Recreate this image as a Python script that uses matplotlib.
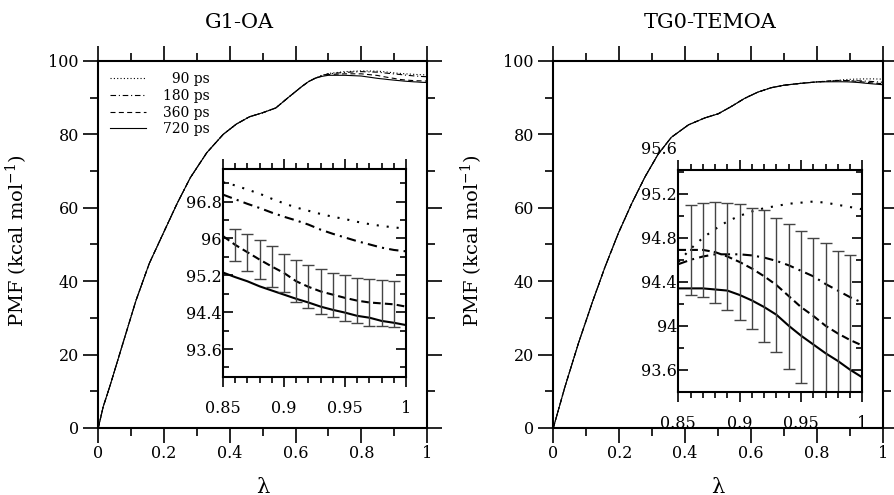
import matplotlib
matplotlib.use('Agg')
import matplotlib.pyplot as plt
from matplotlib.ticker import MultipleLocator

plt.rcParams['font.family'] = ['DejaVu Serif', 'DejaVu Sans']
plt.rcParams['mathtext.fontset'] = 'dejavuserif'

times = ['90 ps', '180 ps', '360 ps', '720 ps']

main_xticks = [0, 0.2, 0.4, 0.6, 0.8, 1.0]
main_xlabels = ['0', '0.2', '0.4', '0.6', '0.8', '1']
main_yticks = [0, 20, 40, 60, 80, 100]
main_ylabels = ['0', '20', '40', '60', '80', '100']
inset_xticks = [0.85, 0.9, 0.95, 1.0]
inset_xlabels = ['0.85', '0.9', '0.95', '1']

# lambda grid of the zoomed region (shared by both insets)
lam_in = [0.85, 0.86, 0.87, 0.88, 0.89, 0.90, 0.91, 0.92,
          0.93, 0.94, 0.95, 0.96, 0.97, 0.98, 0.99, 1.0]

# ---- G1-OA ----
g1_lam = [0, 0.015, 0.035, 0.075, 0.115, 0.155, 0.2, 0.24, 0.28, 0.33,
          0.38, 0.42, 0.46, 0.5, 0.54, 0.58, 0.62, 0.64, 0.66]
g1_pmf = [0, 5.8, 11.3, 23.1, 34.8, 44.8, 53.5, 61.2, 68.2, 75.0,
          80.0, 82.8, 84.8, 85.9, 87.2, 90.2, 93.1, 94.4, 95.3]
g1_lam_up = [0.68, 0.7, 0.75, 0.8]
g1_up = [[96.1, 96.6, 97.1, 97.3],
         [96.0, 96.5, 96.9, 97.1],
         [95.9, 96.3, 96.5, 96.5],
         [95.8, 96.1, 96.1, 95.9]]
g1_in = [[97.22, 97.15, 97.06, 96.97, 96.86, 96.76, 96.67, 96.60,
          96.53, 96.47, 96.42, 96.36, 96.31, 96.27, 96.24, 96.21],
         [96.95, 96.85, 96.75, 96.66, 96.56, 96.47, 96.39, 96.30,
          96.19, 96.10, 96.02, 95.94, 95.87, 95.80, 95.75, 95.72],
         [96.05, 95.86, 95.70, 95.54, 95.39, 95.25, 95.07, 94.95,
          94.85, 94.78, 94.71, 94.65, 94.61, 94.59, 94.57, 94.52],
         [95.26, 95.16, 95.07, 94.96, 94.87, 94.78, 94.69, 94.61,
          94.52, 94.45, 94.39, 94.32, 94.28, 94.21, 94.17, 94.12]]
g1_err = [0.34, 0.40, 0.42, 0.44, 0.42, 0.46, 0.47, 0.49,
          0.48, 0.50, 0.49, 0.50, 0.50, 0.50]
g1_in_yticks = [93.6, 94.4, 95.2, 96.0, 96.8]
g1_in_ylabels = ['93.6', '94.4', '95.2', '96', '96.8']

# ---- TG0-TEMOA ----
tg_lam = [0, 0.035, 0.076, 0.117, 0.157, 0.197, 0.238, 0.278, 0.318, 0.358,
          0.41, 0.46, 0.5, 0.54, 0.58, 0.62, 0.66, 0.7, 0.75, 0.8]
tg_pmf = [0, 11.1, 23.0, 33.9, 43.9, 53.0, 61.2, 68.4, 74.6, 79.2,
          82.6, 84.5, 85.6, 87.6, 89.8, 91.5, 92.7, 93.4, 93.9, 94.3]
tg_in = [[94.58, 94.70, 94.80, 94.88, 94.95, 95.00, 95.04, 95.07,
          95.09, 95.11, 95.12, 95.13, 95.12, 95.10, 95.08, 95.06],
         [94.56, 94.60, 94.63, 94.65, 94.65, 94.65, 94.64, 94.62,
          94.59, 94.55, 94.50, 94.45, 94.38, 94.32, 94.26, 94.21],
         [94.69, 94.69, 94.69, 94.67, 94.63, 94.58, 94.52, 94.45,
          94.37, 94.27, 94.17, 94.09, 94.00, 93.93, 93.87, 93.82],
         [94.34, 94.34, 94.34, 94.33, 94.32, 94.28, 94.23, 94.17,
          94.10, 94.00, 93.91, 93.83, 93.75, 93.68, 93.60, 93.53]]
tg_err = [0.41, 0.43, 0.46, 0.49, 0.53, 0.55, 0.60, 0.61,
          0.66, 0.69, 0.71, 0.75, 0.75, 0.77]
tg_in_yticks = [93.6, 94.0, 94.4, 94.8, 95.2]
tg_in_ylabels = ['93.6', '94', '94.4', '94.8', '95.2']

main_styles = [(0, (1, 2)), (0, (5, 2.5, 1, 2.5)), (0, (4.5, 3)), '-']
inset_styles = [(0, (1, 3.8)), (0, (4.5, 2.5, 1, 2.5)), (0, (3.7, 2)), '-']


def style_main(ax, title, title_x):
    ax.set_xlim(0, 1)
    ax.set_ylim(0, 100)
    ax.set_xticks(main_xticks)
    ax.set_xticklabels(main_xlabels)
    ax.set_yticks(main_yticks)
    ax.set_yticklabels(main_ylabels)
    ax.xaxis.set_minor_locator(MultipleLocator(0.1))
    ax.yaxis.set_minor_locator(MultipleLocator(10))
    ax.tick_params(which='both', direction='out', top=True, right=True,
                   width=1.2, labelsize=11.5)
    ax.tick_params(which='major', length=11)
    ax.tick_params(which='minor', length=6)
    ax.tick_params(axis='x', pad=1)
    ax.tick_params(axis='y', pad=3)
    for s in ax.spines.values():
        s.set_linewidth(1.5)
    ax.set_xlabel('λ', fontsize=15)
    ax.xaxis.set_label_coords(0.5, -0.135)
    ax.set_ylabel('PMF (kcal mol$^{-1}$)', fontsize=14)
    ax.yaxis.set_label_coords(-0.208, 0.51)
    ax.annotate(title, xy=(title_x, 1), xycoords='axes fraction',
                xytext=(0, 24), textcoords='offset points',
                ha='center', va='baseline', fontsize=15)


def draw_inset(ins, vals, err, yticks, ylabels, ylim, minor):
    for k in range(4):
        ins.plot(lam_in, vals[k], color='black', lw=1.5, ls=inset_styles[k])
    ins.errorbar(lam_in[1:15], vals[2][1:15], yerr=err, fmt='none',
                 ecolor='#444444', elinewidth=1, capsize=4, capthick=1)
    ins.set_xlim(0.85, 1.0)
    ins.set_ylim(*ylim)
    ins.set_xticks(inset_xticks)
    ins.set_xticklabels(inset_xlabels)
    ins.set_yticks(yticks)
    ins.set_yticklabels(ylabels)
    ins.xaxis.set_minor_locator(MultipleLocator(0.01))
    ins.yaxis.set_minor_locator(MultipleLocator(minor))
    ins.tick_params(axis='x', which='both', direction='out', top=True,
                    bottom=True, width=1.2, labelsize=11.5, pad=9.5)
    ins.tick_params(axis='y', which='both', direction='in', left=True,
                    right=True, width=1.2, labelsize=11.5, pad=1)
    ins.tick_params(which='major', length=7)
    ins.tick_params(which='minor', length=4.5)
    for s in ins.spines.values():
        s.set_linewidth(1.5)


fig = plt.figure(figsize=(8.95, 4.95), dpi=100)
ax1 = fig.add_axes([0.1098, 0.1354, 0.3673, 0.7414])
ax2 = fig.add_axes([0.6182, 0.1354, 0.3684, 0.7414])
in1 = fig.add_axes([0.2492, 0.2390, 0.2045, 0.4190])
in2 = fig.add_axes([0.7579, 0.2087, 0.2056, 0.4485])

# legend labels right-aligned with figure spaces (digit width)
width = max(len(t) for t in times)
labels = ['\u2007' * (width - len(t)) + t for t in times]

# main curves
for k in range(4):
    ax1.plot(g1_lam + g1_lam_up + lam_in, g1_pmf + g1_up[k] + g1_in[k],
             color='black', lw=0.8, ls=main_styles[k], label=labels[k])
    ax2.plot(tg_lam + lam_in, tg_pmf + tg_in[k],
             color='black', lw=0.8, ls=main_styles[k])

style_main(ax1, 'G1-OA', 0.428)
style_main(ax2, 'TG0-TEMOA', 0.475)

draw_inset(in1, g1_in, g1_err, g1_in_yticks, g1_in_ylabels, (93.0, 97.5), 0.4)
draw_inset(in2, tg_in, tg_err, tg_in_yticks, tg_in_ylabels, (93.4, 95.42), 0.2)
# stray label above the inset frame, as in the original
in2.annotate('95.6', xy=(0, 95.6), xycoords=in2.get_yaxis_transform(),
             xytext=(-1, 0), textcoords='offset points',
             ha='right', va='center', fontsize=11.5, annotation_clip=False)

ax1.legend(loc='upper left', bbox_to_anchor=(0.035, 0.970),
           frameon=False, fontsize=10, handlelength=2.6,
           handletextpad=1.2, labelspacing=0.2, borderpad=0,
           borderaxespad=0)

fig.savefig('out.png', dpi=100)
